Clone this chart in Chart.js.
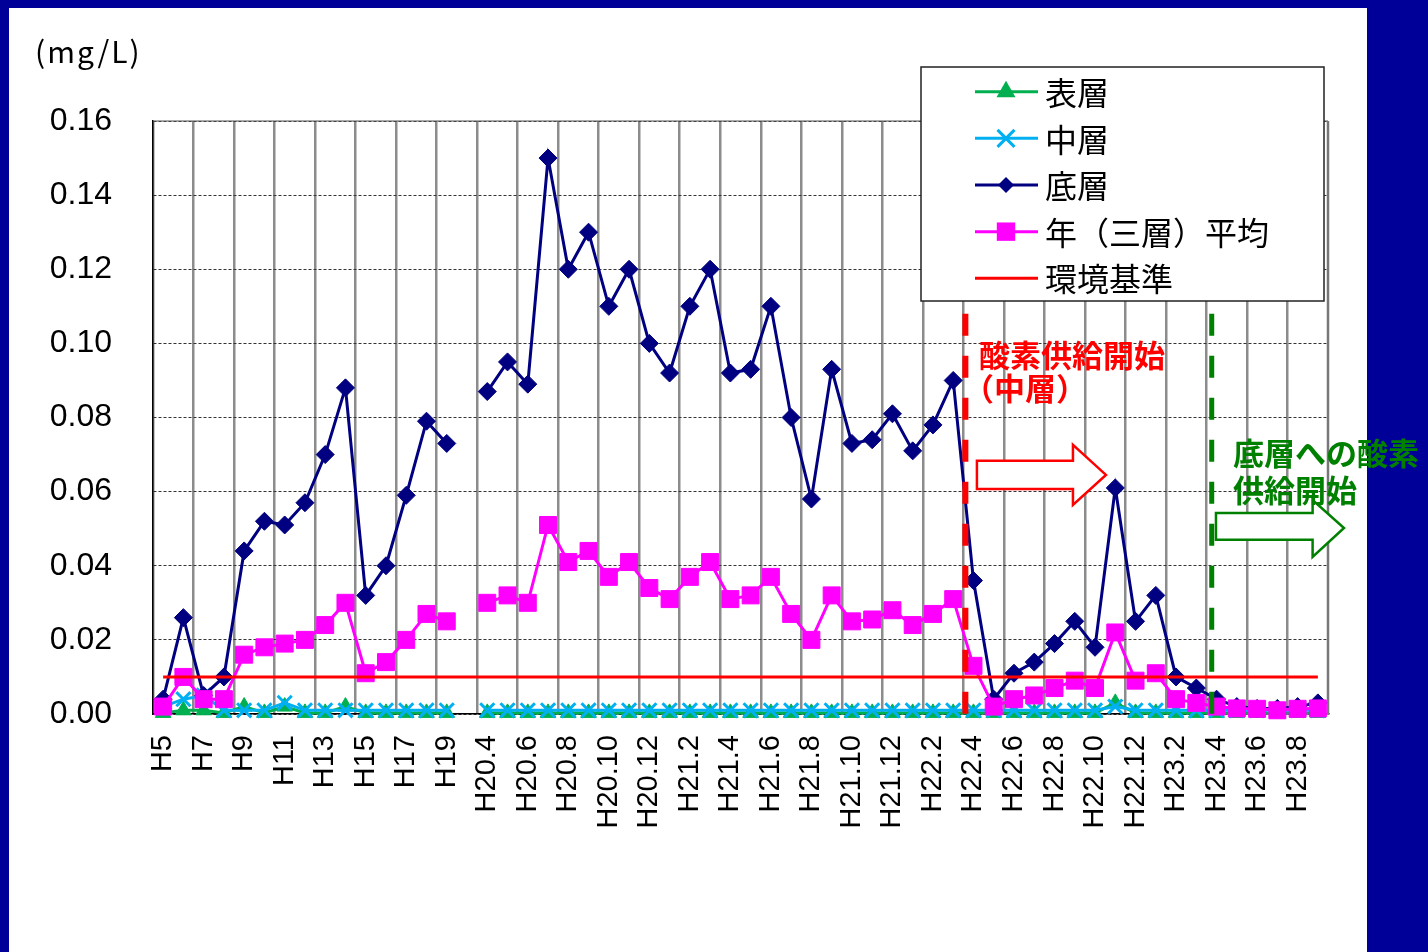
<!DOCTYPE html>
<html lang="ja">
<head>
<meta charset="utf-8">
<title>濃度の推移</title>
<script src="https://cdn.jsdelivr.net/npm/chart.js@4.4.0/dist/chart.umd.min.js"></script>
<style>
  html, body { margin: 0; padding: 0; background: #000099; }
  #wrap { width: 1428px; height: 952px; }
</style>
</head>
<body>
<div id="wrap"><canvas id="chart" width="1428" height="952"></canvas></div>
<script>
// Yearly values H5-H19, one empty slot, then monthly values H20.4-H23.9
const categories = [
  'H5', 'H6', 'H7', 'H8', 'H9', 'H10', 'H11', 'H12', 'H13', 'H14', 'H15', 'H16', 'H17', 'H18', 'H19',
  '',
  'H20.4', 'H20.5', 'H20.6', 'H20.7', 'H20.8', 'H20.9', 'H20.10', 'H20.11', 'H20.12',
  'H21.1', 'H21.2', 'H21.3', 'H21.4', 'H21.5', 'H21.6', 'H21.7', 'H21.8', 'H21.9', 'H21.10', 'H21.11', 'H21.12',
  'H22.1', 'H22.2', 'H22.3', 'H22.4', 'H22.5', 'H22.6', 'H22.7', 'H22.8', 'H22.9', 'H22.10', 'H22.11', 'H22.12',
  'H23.1', 'H23.2', 'H23.3', 'H23.4', 'H23.5', 'H23.6', 'H23.7', 'H23.8', 'H23.9'
];

const surface = [
  0.0003, 0.001, 0.001, 0.0003, 0.002, 0.0003, 0.002, 0.0003, 0.0003, 0.002, 0.0003, 0.0003, 0.0003, 0.0003, 0.0003,
  null,
  0.0003, 0.0003, 0.0003, 0.0003, 0.0003, 0.0003, 0.0003, 0.0003, 0.0003,
  0.0003, 0.0003, 0.0003, 0.0003, 0.0003, 0.0003, 0.0003, 0.0003, 0.0003, 0.0003, 0.0003, 0.0003,
  0.0003, 0.0003, 0.0003, 0.0003, 0.0003, 0.0003, 0.0003, 0.0003, 0.0003, 0.0003, 0.003, 0.0003,
  0.0003, 0.0003, 0.0003, 0.0003, 0.0003, 0.0003, 0.0003, 0.0003, 0.0003
];

const middle = [
  0.002, 0.004, 0.005, 0.001, 0.001, 0.001, 0.003, 0.001, 0.001, 0.001, 0.001, 0.001, 0.001, 0.001, 0.001,
  null,
  0.001, 0.001, 0.001, 0.001, 0.001, 0.001, 0.001, 0.001, 0.001,
  0.001, 0.001, 0.001, 0.001, 0.001, 0.001, 0.001, 0.001, 0.001, 0.001, 0.001, 0.001,
  0.001, 0.001, 0.001, 0.001, 0.001, 0.001, 0.001, 0.001, 0.001, 0.001, 0.002, 0.001,
  0.001, 0.001, 0.001, 0.001, 0.001, 0.001, 0.001, 0.001, 0.001
];

const bottom = [
  0.004, 0.026, 0.005, 0.010, 0.044, 0.052, 0.051, 0.057, 0.070, 0.088, 0.032, 0.040, 0.059, 0.079, 0.073,
  null,
  0.087, 0.095, 0.089, 0.150, 0.120, 0.130, 0.110, 0.120, 0.100,
  0.092, 0.110, 0.120, 0.092, 0.093, 0.110, 0.080, 0.058, 0.093, 0.073, 0.074, 0.081,
  0.071, 0.078, 0.090, 0.036, 0.004, 0.011, 0.014, 0.019, 0.025, 0.018, 0.061, 0.025,
  0.032, 0.010, 0.007, 0.004, 0.002, 0.0015, 0.0015, 0.002, 0.003
];

const average = [
  0.002, 0.010, 0.004, 0.004, 0.016, 0.018, 0.019, 0.020, 0.024, 0.030, 0.011, 0.014, 0.020, 0.027, 0.025,
  null,
  0.030, 0.032, 0.030, 0.051, 0.041, 0.044, 0.037, 0.041, 0.034,
  0.031, 0.037, 0.041, 0.031, 0.032, 0.037, 0.027, 0.020, 0.032, 0.025, 0.0255, 0.028,
  0.024, 0.027, 0.031, 0.013, 0.002, 0.004, 0.005, 0.007, 0.009, 0.007, 0.022, 0.009,
  0.011, 0.004, 0.003, 0.002, 0.0015, 0.0014, 0.001, 0.0014, 0.0015
];

// environmental standard, flat across every category (gap included)
const standard = [
  0.01, 0.01, 0.01, 0.01, 0.01, 0.01, 0.01, 0.01, 0.01, 0.01, 0.01, 0.01, 0.01, 0.01, 0.01,
  0.01,
  0.01, 0.01, 0.01, 0.01, 0.01, 0.01, 0.01, 0.01, 0.01,
  0.01, 0.01, 0.01, 0.01, 0.01, 0.01, 0.01, 0.01, 0.01, 0.01, 0.01, 0.01,
  0.01, 0.01, 0.01, 0.01, 0.01, 0.01, 0.01, 0.01, 0.01, 0.01, 0.01, 0.01,
  0.01, 0.01, 0.01, 0.01, 0.01, 0.01, 0.01, 0.01, 0.01
];

const yTicks = { min: 0, max: 0.16, step: 0.02 };

// oxygen supply start markers (category position, value where the line begins)
const supplyStarts = [
  { at: 39.6, top: 0.108, color: '#FF0000', width: 6 },
  { at: 51.76, top: 0.108, color: '#008000', width: 5 }
];

const JP = '"Noto Sans CJK JP", "Noto Sans CJK SC", sans-serif';
const LATIN = '"Liberation Sans", Arial, sans-serif';

function drawMarker(ctx, style, x, y, r, color, lw) {
  ctx.save();
  ctx.fillStyle = color;
  ctx.strokeStyle = color;
  ctx.lineWidth = lw;
  ctx.beginPath();
  if (style === 'triangle') {
    ctx.moveTo(x, y - r);
    ctx.lineTo(x + r * 0.866, y + r * 0.5);
    ctx.lineTo(x - r * 0.866, y + r * 0.5);
    ctx.closePath();
    ctx.fill();
  } else if (style === 'crossRot') {
    const d = r * 0.7071;
    ctx.moveTo(x - d, y - d); ctx.lineTo(x + d, y + d);
    ctx.moveTo(x + d, y - d); ctx.lineTo(x - d, y + d);
    ctx.stroke();
  } else if (style === 'rectRot') {
    ctx.moveTo(x - r, y); ctx.lineTo(x, y - r);
    ctx.lineTo(x + r, y); ctx.lineTo(x, y + r);
    ctx.closePath();
    ctx.fill();
  } else if (style === 'rect') {
    const s = r * 0.7071;
    ctx.rect(x - s, y - s, 2 * s, 2 * s);
    ctx.fill();
  }
  ctx.restore();
}

function drawArrow(ctx, px, py, a, color) {
  ctx.save();
  ctx.beginPath();
  ctx.moveTo(px(a.x0), py(a.bodyTop));
  ctx.lineTo(px(a.x1), py(a.bodyTop));
  ctx.lineTo(px(a.x1), py(a.headTop));
  ctx.lineTo(px(a.x2), py(a.tip));
  ctx.lineTo(px(a.x1), py(a.headBottom));
  ctx.lineTo(px(a.x1), py(a.bodyBottom));
  ctx.lineTo(px(a.x0), py(a.bodyBottom));
  ctx.closePath();
  ctx.fillStyle = '#ffffff';
  ctx.fill();
  ctx.lineWidth = 2.5;
  ctx.strokeStyle = color;
  ctx.stroke();
  ctx.restore();
}

const backdrop = {
  id: 'backdrop',
  beforeDraw(chart) {
    const ctx = chart.ctx;
    ctx.save();
    ctx.fillStyle = '#000099';
    ctx.fillRect(0, 0, chart.width, chart.height);
    ctx.fillStyle = '#ffffff';
    ctx.fillRect(9, 8, 1358, chart.height - 8);
    ctx.fillStyle = '#000';
    ctx.font = '30px ' + JP;
    ctx.textBaseline = 'middle';
    ctx.letterSpacing = '2px';
    ctx.fillText('(mg/L)', 35, 52);
    ctx.restore();
  },
  beforeDatasetsDraw(chart) {
    const { ctx, chartArea: a } = chart;
    ctx.save();
    ctx.strokeStyle = '#555';
    ctx.lineWidth = 1;
    ctx.beginPath();
    ctx.moveTo(a.left, a.top);
    ctx.lineTo(a.right, a.top);
    ctx.stroke();
    ctx.strokeStyle = '#777';
    ctx.lineWidth = 2.5;
    ctx.beginPath();
    ctx.moveTo(a.right, a.top);
    ctx.lineTo(a.right, a.bottom);
    ctx.stroke();
    ctx.restore();
  }
};

const notes = {
  id: 'notes',
  afterDatasetsDraw(chart) {
    const ctx = chart.ctx;
    const px = v => chart.scales.x.getPixelForValue(v);
    const py = v => chart.scales.y.getPixelForValue(v);

    supplyStarts.forEach(s => {
      ctx.save();
      ctx.strokeStyle = s.color;
      ctx.lineWidth = s.width;
      ctx.setLineDash([22, 20]);
      ctx.beginPath();
      ctx.moveTo(px(s.at), py(s.top));
      ctx.lineTo(px(s.at), py(0));
      ctx.stroke();
      ctx.restore();
    });

    drawArrow(ctx, px, py, {
      x0: 40.17, x1: 44.91, x2: 46.54,
      bodyTop: 0.0683, bodyBottom: 0.0607, headTop: 0.0726, headBottom: 0.0564, tip: 0.0645
    }, '#FF0000');
    drawArrow(ctx, px, py, {
      x0: 51.97, x1: 56.74, x2: 58.29,
      bodyTop: 0.0542, bodyBottom: 0.0470, headTop: 0.0577, headBottom: 0.0424, tip: 0.0502
    }, '#008000');

    ctx.save();
    ctx.font = 'bold 31px ' + JP;
    ctx.textBaseline = 'middle';
    ctx.fillStyle = '#FF0000';
    ctx.fillText('酸素供給開始', px(40.27), py(0.0969));
    ctx.fillText('（中層）', px(39.48), py(0.088));
    ctx.fillStyle = '#008000';
    ctx.fillText('底層への酸素', px(52.81), py(0.0704));
    ctx.fillText('供給開始', px(52.81), py(0.0604));
    ctx.restore();
  },
  afterDraw(chart) {
    const ctx = chart.ctx;
    const box = { x: 921, y: 67, w: 403, h: 234 };
    ctx.save();
    ctx.fillStyle = '#ffffff';
    ctx.fillRect(box.x, box.y, box.w, box.h);
    ctx.strokeStyle = '#222';
    ctx.lineWidth = 1.5;
    ctx.strokeRect(box.x, box.y, box.w, box.h);

    const legendMarks = [
      { style: 'triangle', r: 11, lw: 1 },
      { style: 'crossRot', r: 12, lw: 3 },
      { style: 'rectRot', r: 8, lw: 1 },
      { style: 'rect', r: 13, lw: 1 },
      { style: null }
    ];
    ctx.font = '32px ' + JP;
    ctx.textBaseline = 'middle';
    chart.data.datasets.forEach((ds, i) => {
      const y = box.y + 24.7 + i * 46.65;
      ctx.strokeStyle = ds.borderColor;
      ctx.lineWidth = 3;
      ctx.beginPath();
      ctx.moveTo(975, y);
      ctx.lineTo(1038, y);
      ctx.stroke();
      const m = legendMarks[i];
      if (m.style) drawMarker(ctx, m.style, 1006, y, m.r, ds.borderColor, m.lw);
      ctx.fillStyle = '#000';
      ctx.fillText(ds.label, 1045, y + 1);
    });
    ctx.restore();
  }
};

new Chart(document.getElementById('chart'), {
  type: 'line',
  data: {
    labels: categories,
    datasets: [
      {
        label: '表層', data: surface, order: 5, clip: false,
        borderColor: '#00B050', backgroundColor: '#00B050', borderWidth: 3,
        pointStyle: 'triangle', pointRadius: 9, pointBorderWidth: 1
      },
      {
        label: '中層', data: middle, order: 4, clip: false,
        borderColor: '#00B0F0', backgroundColor: '#00B0F0', borderWidth: 3,
        pointStyle: 'crossRot', pointRadius: 10, pointBorderWidth: 3
      },
      {
        label: '底層', data: bottom, order: 3, clip: false,
        borderColor: '#000080', backgroundColor: '#000080', borderWidth: 3,
        pointStyle: 'rectRot', pointRadius: 9, pointBorderWidth: 1
      },
      {
        label: '年（三層）平均', data: average, order: 2, clip: false,
        borderColor: '#FF00FF', backgroundColor: '#FF00FF', borderWidth: 3,
        pointStyle: 'rect', pointRadius: 12, pointBorderWidth: 1
      },
      {
        label: '環境基準', data: standard, order: 1,
        borderColor: '#FF0000', backgroundColor: '#FF0000', borderWidth: 3,
        pointRadius: 0
      }
    ]
  },
  options: {
    responsive: false,
    animation: false,
    devicePixelRatio: 1,
    spanGaps: false,
    layout: { padding: { left: 3, top: 121, right: 100, bottom: 0 } },
    plugins: {
      legend: { display: false },
      tooltip: { enabled: false }
    },
    elements: { line: { tension: 0 } },
    scales: {
      x: {
        type: 'category',
        offset: true,
        afterFit: s => { s.height = 238; },
        grid: {
          offset: true,
          drawTicks: false,
          lineWidth: 2.5,
          color: c => (c.index % 2 === 0 ? '#8c8c8c' : 'rgba(0,0,0,0)')
        },
        border: { color: '#000', width: 1.5 },
        ticks: {
          autoSkip: false,
          minRotation: 90,
          maxRotation: 90,
          padding: 21,
          color: '#000',
          font: { family: LATIN, size: 29 },
          callback: function (v, i) { return i % 2 === 0 ? this.getLabelForValue(v) : ''; }
        }
      },
      y: {
        min: yTicks.min,
        max: yTicks.max,
        afterFit: s => { s.width = 150; },
        grid: { color: '#333', lineWidth: 1, drawTicks: false },
        border: { color: '#000', width: 1.5, dash: [3, 2] },
        ticks: {
          stepSize: yTicks.step,
          padding: 41,
          color: '#000',
          font: { family: LATIN, size: 32 },
          callback: v => v.toFixed(2)
        }
      }
    }
  },
  plugins: [backdrop, notes]
});
</script>
</body>
</html>
